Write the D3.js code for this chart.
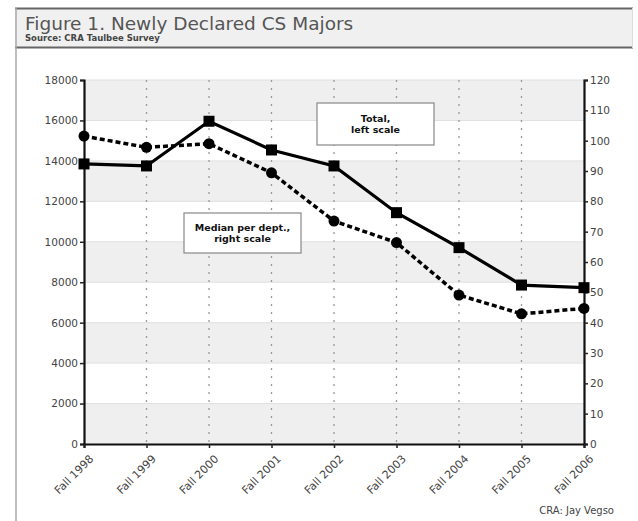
<!DOCTYPE html>
<html><head><meta charset="utf-8">
<script src="https://cdn.jsdelivr.net/npm/d3@7"></script>
<style>body{margin:0;background:#fff}svg{display:block}</style>
</head><body>
<script>
const categories = ["Fall 1998","Fall 1999","Fall 2000","Fall 2001","Fall 2002","Fall 2003","Fall 2004","Fall 2005","Fall 2006"];
const totalMajors = [13850, 13750, 15960, 14540, 13750, 11440, 9710, 7860, 7730];
const medianPerDept = [101.5, 97.8, 99, 89.4, 73.5, 66.4, 49.1, 42.9, 44.7];
const leftTicks = [0,2000,4000,6000,8000,10000,12000,14000,16000,18000];
const rightTicks = [0,10,20,30,40,50,60,70,80,90,100,110,120];

const W = 638, H = 521;
const svg = d3.select("body").append("svg").attr("width", W).attr("height", H);
const font = "'DejaVu Sans', Verdana, sans-serif";

// frame / title bar
svg.append("rect").attr("x",15).attr("y",8).attr("width",618).attr("height",40).attr("fill","#f0f0f0");
svg.append("line").attr("x1",15).attr("x2",633).attr("y1",8.5).attr("y2",8.5).attr("stroke","#666").attr("stroke-width",2);
svg.append("line").attr("x1",15).attr("x2",633).attr("y1",47.5).attr("y2",47.5).attr("stroke","#666").attr("stroke-width",2);
svg.append("line").attr("x1",16).attr("x2",16).attr("y1",8).attr("y2",H).attr("stroke","#aaa").attr("stroke-width",1.5);
svg.append("line").attr("x1",632.5).attr("x2",632.5).attr("y1",8).attr("y2",48).attr("stroke","#ddd").attr("stroke-width",1);
svg.append("text").attr("x",25).attr("y",30).attr("font-family",font).attr("font-size",18.5).attr("fill","#555").text("Figure 1. Newly Declared CS Majors");
svg.append("text").attr("x",25).attr("y",41).attr("font-family",font).attr("font-size",8.5).attr("font-weight","bold").attr("fill","#444").text("Source: CRA Taulbee Survey");

const x0 = 84, x1 = 584, yTop = 80, yBot = 444;
const x = d3.scalePoint().domain(categories).range([x0, x1]);
const yL = d3.scaleLinear().domain([0,18000]).range([yBot, yTop]);
const yR = d3.scaleLinear().domain([0,120]).range([yBot, yTop]);

// bands
const g = svg.append("g");
for (let i = 0; i < leftTicks.length - 1; i++) {
  const a = leftTicks[i], b = leftTicks[i+1];
  g.append("rect").attr("x",x0).attr("width",x1-x0)
    .attr("y",yL(b)).attr("height",yL(a)-yL(b))
    .attr("fill", i % 2 === 0 ? "#efefef" : "#ffffff");
}
leftTicks.forEach(t => {
  g.append("line").attr("x1",x0).attr("x2",x1).attr("y1",yL(t)).attr("y2",yL(t)).attr("stroke","#e0e0e0").attr("stroke-width",1);
});
// vertical dotted grid
categories.slice(1, -1).forEach(c => {
  g.append("line").attr("x1",x(c)).attr("x2",x(c)).attr("y1",yTop).attr("y2",yBot)
    .attr("stroke","#999").attr("stroke-width",1.3).attr("stroke-dasharray","2,6");
});

// axes
const axL = svg.append("g").attr("transform",`translate(${x0},0)`)
  .call(d3.axisLeft(yL).tickValues(leftTicks).tickSize(4).tickPadding(2).tickFormat(d3.format("d")));
const axR = svg.append("g").attr("transform",`translate(${x1},0)`)
  .call(d3.axisRight(yR).tickValues(rightTicks).tickSize(4).tickPadding(2).tickFormat(d3.format("d")));
const axB = svg.append("g").attr("transform",`translate(0,${yBot})`)
  .call(d3.axisBottom(x).tickSize(4).tickPadding(4));
[axL, axR, axB].forEach(a => {
  a.select(".domain").attr("stroke","#111").attr("stroke-width",2.2);
  a.selectAll(".tick line").attr("stroke","#222").attr("stroke-width",1.5);
  a.selectAll("text").attr("font-family",font).attr("font-size",10.5).attr("fill","#444");
});
axB.selectAll("text").attr("text-anchor","end").attr("dx","0").attr("dy","0")
  .attr("font-size",11).attr("transform","translate(4,10) rotate(-45)");

// lines
const lineL = d3.line().x((d,i)=>x(categories[i])).y(d=>yL(d));
const lineR = d3.line().x((d,i)=>x(categories[i])).y(d=>yR(d));
svg.append("path").datum(medianPerDept).attr("d",lineR).attr("fill","none")
  .attr("stroke","#000").attr("stroke-width",3.5).attr("stroke-dasharray","5,3");
svg.append("path").datum(totalMajors).attr("d",lineL).attr("fill","none")
  .attr("stroke","#000").attr("stroke-width",3.2);
svg.selectAll("circle.m").data(medianPerDept).enter().append("circle")
  .attr("cx",(d,i)=>x(categories[i])).attr("cy",d=>yR(d)).attr("r",5.5).attr("fill","#000");
svg.selectAll("rect.t").data(totalMajors).enter().append("rect")
  .attr("x",(d,i)=>x(categories[i])-5.5).attr("y",d=>yL(d)-5.5).attr("width",11).attr("height",11).attr("fill","#000");

// annotation boxes
function note(bx, by, bw, bh, lines) {
  svg.append("rect").attr("x",bx).attr("y",by).attr("width",bw).attr("height",bh)
    .attr("fill","#fff").attr("stroke","#888").attr("stroke-width",1.2);
  lines.forEach((t,i) => {
    svg.append("text").attr("x",bx+bw/2).attr("y",by+bh/2 + 3.5 + (i - (lines.length-1)/2)*11)
      .attr("text-anchor","middle").attr("font-family",font).attr("font-size",9.5)
      .attr("font-weight","bold").attr("fill","#111").text(t);
  });
}
note(317, 103, 117, 42, ["Total,", "left scale"]);
note(184, 213, 117, 40, ["Median per dept.,", "right scale"]);

svg.append("text").attr("x",614).attr("y",514).attr("text-anchor","end").attr("font-family",font)
  .attr("font-size",10).attr("fill","#444").text("CRA: Jay Vegso");
</script>
</body></html>
